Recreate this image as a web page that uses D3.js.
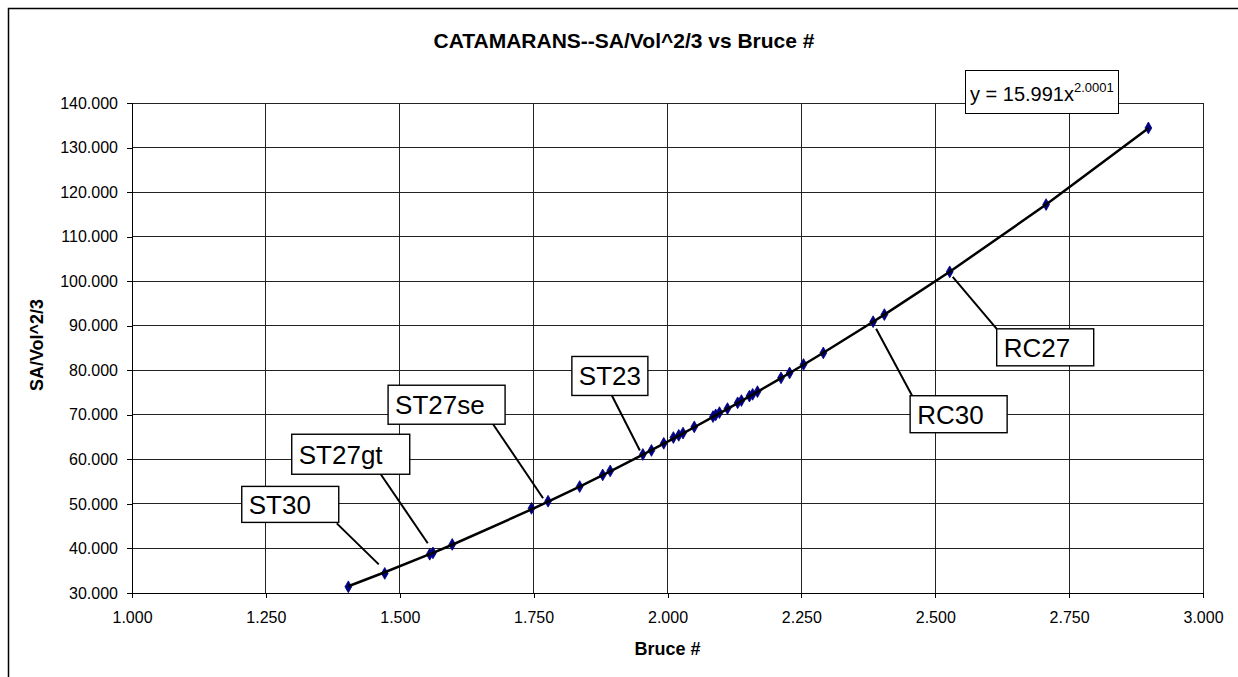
<!DOCTYPE html>
<html>
<head>
<meta charset="utf-8">
<script src="https://cdn.jsdelivr.net/npm/d3@7"></script>
<style>
  body { margin: 0; background: #fff; }
  svg { display: block; font-family: "Liberation Sans", Arial, sans-serif; }
</style>
</head>
<body>
<svg id="chart" width="1238" height="677"></svg>
<script>
// values
let bruce = [1.404, 1.472, 1.556, 1.562, 1.598, 1.746, 1.777, 1.836, 1.879, 1.893,
  1.954, 1.970, 1.993, 2.011, 2.021, 2.029, 2.050, 2.085, 2.090, 2.097,
  2.112, 2.131, 2.138, 2.153, 2.159, 2.168, 2.212, 2.228, 2.254, 2.291,
  2.384, 2.405, 2.527, 2.707, 2.898];
let saVol = [31.4, 34.4, 38.7, 39.0, 40.9, 49.0, 50.6, 53.9, 56.5, 57.4,
  61.1, 62.0, 63.6, 64.9, 65.4, 65.9, 67.3, 69.6, 70.0, 70.5,
  71.4, 72.7, 73.2, 74.2, 74.6, 75.2, 78.3, 79.4, 81.3, 83.9,
  90.9, 92.5, 102.1, 117.2, 134.4];

let xTicks = [1.0, 1.25, 1.5, 1.75, 2.0, 2.25, 2.5, 2.75, 3.0];
let yTicks = [30, 40, 50, 60, 70, 80, 90, 100, 110, 120, 130, 140];

// power trendline shown on the chart
let trendA = 15.991;
let trendB = 2.0001;

// labelled boats and which point they point to
let labelNames = ["ST30", "ST27gt", "ST27se", "ST23", "RC30", "RC27"];
let labelPoint = [1, 2, 6, 10, 30, 32];

// callout layout, offsets from the point in px: [boxDx, boxDy, boxW, boxH, startDx, startDy, endDx, endDy]
let labelLayout = [
  [-143, -87, 97, 36, -48, -50, -6, -9],
  [-138, -120, 118, 40, -49, -80, -2, -11],
  [-160, -116, 117, 39, -55, -77, -5, -3],
  [-71, -98, 76, 39, -31, -59, -3, -4],
  [37, 74, 97, 37, 3, 7, 39, 74],
  [47, 57, 97, 37, 3, 5, 47, 57]
];

function drawChart(svgId) {
  let svg = d3.select(svgId);
  let black = "#000";
  let navy = "#000080";

  let left = 132, right = 1203, top = 103, bottom = 593;

  let x = d3.scaleLinear().domain([1, 3]).range([left, right]);
  let y = d3.scaleLinear().domain([30, 140]).range([bottom, top]);

  svg.append("rect").attr("width", 1238).attr("height", 677).attr("fill", "#fff");

  // chart area border (runs off the right/bottom of the picture)
  svg.append("rect")
    .attr("x", 8.5).attr("y", 8.5)
    .attr("width", 1300).attr("height", 800)
    .attr("fill", "none")
    .attr("stroke", black)
    .attr("stroke-width", 1.5);

  // gridlines
  let grid = svg.append("g").attr("shape-rendering", "crispEdges");
  grid.selectAll(".hgrid")
    .data(yTicks)
    .enter().append("line")
      .attr("x1", left).attr("x2", right)
      .attr("y1", d => y(d)).attr("y2", d => y(d))
      .attr("stroke", "#222");
  grid.selectAll(".vgrid")
    .data(xTicks)
    .enter().append("line")
      .attr("x1", d => x(d)).attr("x2", d => x(d))
      .attr("y1", top).attr("y2", bottom)
      .attr("stroke", "#222");

  // axes
  let yAxis = svg.append("g")
    .attr("transform", "translate(" + left + ",0)")
    .call(d3.axisLeft(y).tickValues(yTicks).tickFormat(d3.format(".3f")).tickSize(5).tickPadding(9));
  let xAxis = svg.append("g")
    .attr("transform", "translate(0," + bottom + ")")
    .call(d3.axisBottom(x).tickValues(xTicks).tickFormat(d3.format(".3f")).tickSize(5).tickPadding(14));
  for (let ax of [xAxis, yAxis]) {
    ax.attr("shape-rendering", "crispEdges");
    ax.select(".domain").attr("stroke", black);
    ax.selectAll(".tick line").attr("stroke", black);
    ax.selectAll("text")
      .style("font-family", "Liberation Sans, Arial, sans-serif")
      .style("font-size", "16px")
      .attr("fill", black);
  }

  // titles
  svg.append("text")
    .attr("x", 624).attr("y", 48)
    .attr("text-anchor", "middle")
    .style("font-size", "21px")
    .style("font-weight", "bold")
    .text("CATAMARANS--SA/Vol^2/3 vs Bruce #");
  svg.append("text")
    .attr("x", (left + right) / 2).attr("y", 655)
    .attr("text-anchor", "middle")
    .style("font-size", "18px")
    .style("font-weight", "bold")
    .text("Bruce #");
  svg.append("text")
    .attr("transform", "translate(43,345)rotate(-90)")
    .attr("text-anchor", "middle")
    .style("font-size", "18px")
    .style("font-weight", "bold")
    .text("SA/Vol^2/3");

  // points
  let points = bruce.map((b, i) => ({x: b, y: saVol[i]}));
  svg.append("g")
    .selectAll("path")
    .data(points)
    .enter().append("path")
      .attr("d", d3.symbol().type(d3.symbolDiamond).size(40))
      .attr("transform", d => "translate(" + x(d.x) + "," + y(d.y) + ")")
      .attr("fill", navy)
      .attr("stroke", navy)
      .attr("stroke-width", 0.8);

  // power trendline evaluated at each measured x
  let trend = bruce.map(b => ({x: b, y: trendA * Math.pow(b, trendB)}));
  svg.append("path")
    .datum(trend)
    .attr("d", d3.line().x(d => x(d.x)).y(d => y(d.y)))
    .attr("fill", "none")
    .attr("stroke", black)
    .attr("stroke-width", 2.5);

  // callouts
  labelNames.forEach((name, i) => {
    let p = points[labelPoint[i]];
    let px = x(p.x), py = y(p.y);
    let L = labelLayout[i];
    svg.append("line")
      .attr("x1", px + L[4]).attr("y1", py + L[5])
      .attr("x2", px + L[6]).attr("y2", py + L[7])
      .attr("stroke", black)
      .attr("stroke-width", 2);
    svg.append("rect")
      .attr("x", px + L[0]).attr("y", py + L[1])
      .attr("width", L[2]).attr("height", L[3])
      .attr("fill", "#fff")
      .attr("stroke", black)
      .attr("stroke-width", 1.4);
    svg.append("text")
      .attr("x", px + L[0] + 7).attr("y", py + L[1] + L[3] / 2 + 9.5)
      .style("font-size", "26px")
      .text(name);
  });

  // trendline equation
  let eq = svg.append("g");
  eq.append("rect")
    .attr("x", 965.5).attr("y", 70.5)
    .attr("width", 153).attr("height", 43)
    .attr("fill", "#fff")
    .attr("stroke", black)
    .attr("stroke-width", 1);
  let eqText = eq.append("text")
    .attr("x", 970).attr("y", 101)
    .style("font-size", "20px");
  eqText.append("tspan").text("y = " + trendA + "x");
  eqText.append("tspan")
    .attr("dy", -9)
    .style("font-size", "13px")
    .text(trendB.toFixed(4));
}

drawChart("#chart");
</script>
</body>
</html>
